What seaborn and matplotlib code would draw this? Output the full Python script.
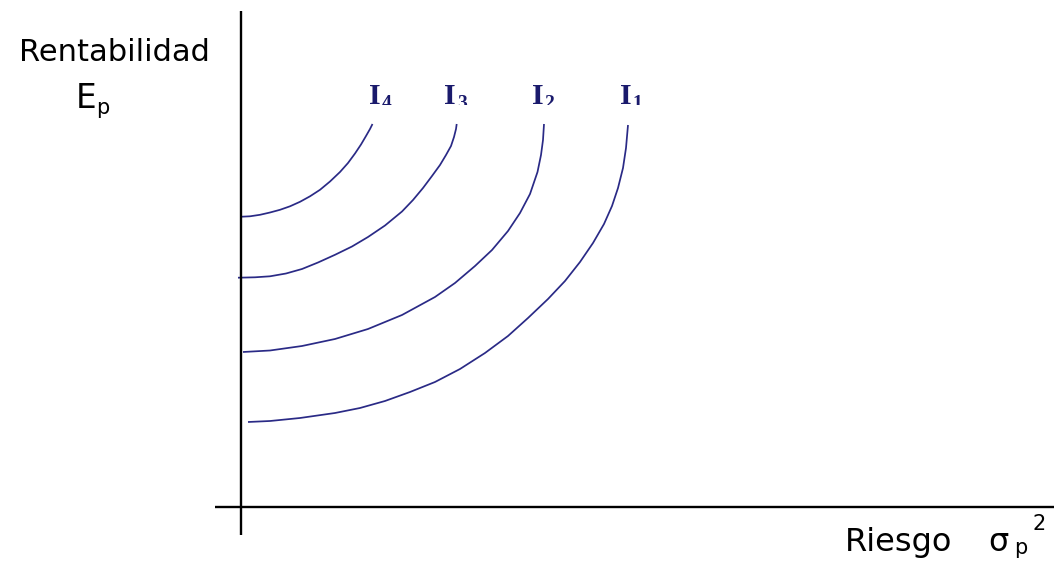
import numpy as np
import pandas as pd
import matplotlib
matplotlib.use("Agg")
import matplotlib.pyplot as plt
import seaborn as sns
from matplotlib.transforms import Bbox, TransformedBbox

# ---- data (x = risk, y = expected return) ----
curve_names = ["I4", "I3", "I2", "I1"]
label_digits = ["4", "3", "2", "1"]

i4_x = [0.07, 0.9, 1.9, 2.9, 3.9, 4.9, 5.9, 6.9, 7.9, 8.9, 9.9, 10.7, 11.4,
        12.0, 12.5, 12.9, 13.15]
i4_y = [29.03, 29.07, 29.22, 29.45, 29.72, 30.07, 30.52, 31.07, 31.72, 32.55,
        33.5, 34.4, 35.35, 36.25, 37.1, 37.8, 38.3]

i3_x = [-0.3, 1.4, 2.9, 4.5, 6.1, 7.7, 9.4, 11.1, 12.7, 14.4, 16.1, 17.2, 18.2,
        19.1, 19.9, 20.5, 21.0, 21.3, 21.5, 21.57]
i3_y = [22.93, 22.97, 23.07, 23.35, 23.8, 24.45, 25.22, 26.05, 27.0, 28.15,
        29.55, 30.7, 31.9, 33.1, 34.2, 35.2, 36.1, 37.0, 37.8, 38.3]

i2_x = [0.2, 2.9, 6.1, 9.4, 12.7, 16.1, 19.4, 21.4, 23.4, 25.1, 26.7, 27.9,
        28.9, 29.65, 30.0, 30.2, 30.3]
i2_y = [15.5, 15.65, 16.1, 16.8, 17.8, 19.2, 21.0, 22.4, 24.1, 25.7, 27.6,
        29.4, 31.3, 33.5, 35.2, 36.7, 38.3]

i1_x = [0.7, 2.9, 5.9, 9.4, 11.9, 14.4, 16.9, 19.4, 21.9, 24.4, 26.7, 28.7,
        30.7, 32.4, 33.9, 35.2, 36.3, 37.1, 37.7, 38.2, 38.5, 38.7]
i1_y = [8.5, 8.6, 8.9, 9.4, 9.9, 10.6, 11.5, 12.5, 13.8, 15.4, 17.1, 18.9,
        20.8, 22.6, 24.5, 26.4, 28.3, 30.1, 31.9, 33.9, 35.9, 38.2]

curve_x = [i4_x, i3_x, i2_x, i1_x]
curve_y = [i4_y, i3_y, i2_y, i1_y]

frames = []
for name, xs, ys in zip(curve_names, curve_x, curve_y):
    frames.append(pd.DataFrame({"curve": name, "riesgo": xs, "rentabilidad": ys}))
df = pd.concat(frames, ignore_index=True)

# ---- style ----
sns.set_theme(style="white")
plt.rcParams["font.family"] = ["DejaVu Sans"]

curve_color = "#2a2a86"
label_color = "#1a1a6c"

fig = plt.figure(figsize=(10.54, 5.61), dpi=100)
ax = fig.add_axes([0, 0, 1, 1])

sns.lineplot(data=df, x="riesgo", y="rentabilidad", hue="curve",
             units="curve", estimator=None, sort=False,
             palette=[curve_color] * 4, linewidth=1.25, legend=False, ax=ax,
             solid_joinstyle="round", solid_capstyle="butt")

ax.set_xlim(-24.1, 81.3)
ax.set_ylim(-5.4, 50.7)
ax.set_xticks([])
ax.set_yticks([])
ax.set_xlabel("")
ax.set_ylabel("")

# axes drawn as spines through the origin
for side in ["top", "right"]:
    ax.spines[side].set_visible(False)
ax.spines["left"].set_position(("data", 0))
ax.spines["left"].set_bounds(-2.8, 49.6)
ax.spines["bottom"].set_position(("data", 0))
ax.spines["bottom"].set_bounds(-2.6, 81.3)
for side in ["left", "bottom"]:
    ax.spines[side].set_color("black")
    ax.spines[side].set_linewidth(1.7)
    ax.spines[side].set_capstyle("butt")

# axis titles
ax.text(-12.65, 44.63, "Rentabilidad", ha="center", va="baseline",
        fontsize=22, color="black")
ax.text(-16.5, 39.87, "E", ha="left", va="baseline", fontsize=23.5, color="black")
ax.text(-14.45, 39.25, "p", ha="left", va="baseline", fontsize=15, color="black")

ax.text(60.4, -4.37, "Riesgo", ha="left", va="baseline", fontsize=23, color="black")
ax.text(74.7, -4.37, "σ", ha="left", va="baseline", fontsize=23, color="black")
ax.text(77.3, -4.75, "p", ha="left", va="baseline", fontsize=15, color="black")
ax.text(79.2, -2.3, "2", ha="left", va="baseline", fontsize=15, color="black")

# curve labels (digits clipped at the bottom like the original)
label_I_x = [12.8, 20.33, 29.07, 37.9]
label_d_x = [14.07, 21.57, 30.3, 39.17]
clip = TransformedBbox(Bbox([[-30, 40.22], [90, 60]]), ax.transData)
for lx, dx, dg in zip(label_I_x, label_d_x, label_digits):
    ax.text(lx, 40.27, "I", ha="left", va="baseline", fontsize=21.5,
            fontweight="bold", family=["Liberation Serif"], color=label_color)
    t = ax.text(dx, 39.92, dg, ha="left", va="baseline", fontsize=14,
                fontweight="bold", family=["Liberation Serif"], color=label_color)
    t.set_clip_box(clip)
    t.set_clip_on(True)

fig.savefig("out.png", dpi=100, facecolor="white")
